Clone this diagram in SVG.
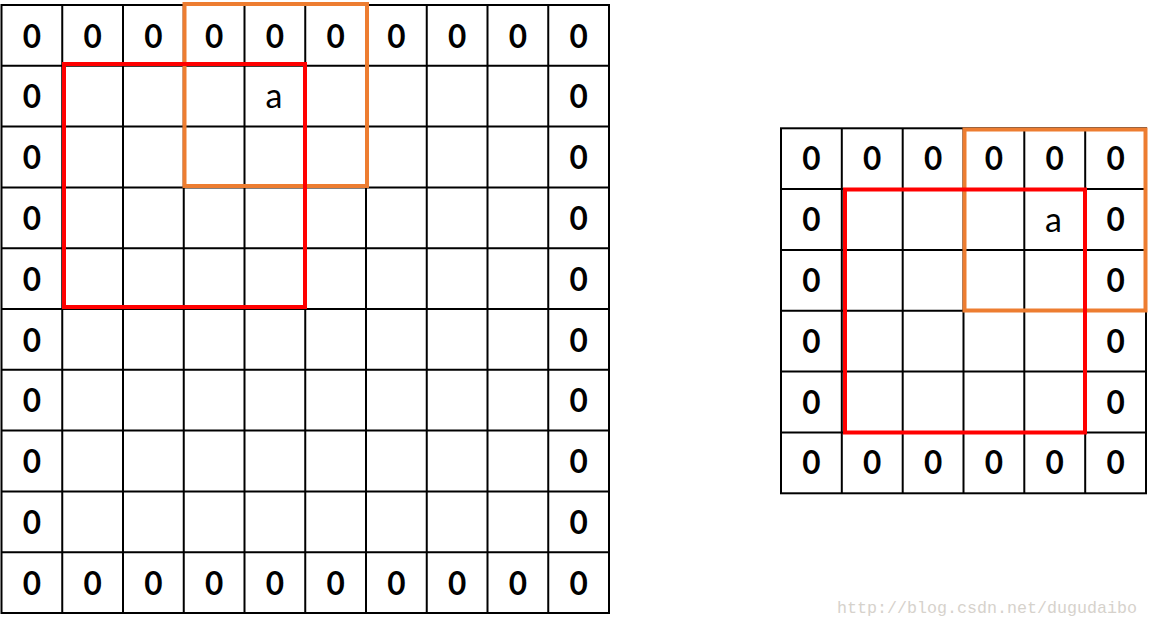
<svg xmlns="http://www.w3.org/2000/svg" width="1149" height="628" viewBox="0 0 1149 628">
<style>
.grid{fill:none;stroke:#000;stroke-width:2}
.z{font-family:Lato,"Open Sans","Liberation Sans",sans-serif;font-weight:700;font-size:31.5px;fill:#000;text-anchor:middle}
.a{font-family:Lato,"Open Sans","Liberation Sans",sans-serif;font-weight:400;font-size:34px;fill:#000;text-anchor:middle}
.red{fill:none;stroke:#FF0000;stroke-width:4}
.org{fill:none;stroke:#ED7D31;stroke-width:4}
.wm{font-family:"Liberation Mono",monospace;font-size:17px;fill:#d6d2cc}
</style>
<rect width="1149" height="628" fill="#fff"/>
<g id="left-grid">
<rect class="grid" x="1.5" y="5" width="607.5" height="608"/>
<path class="grid" d="M62.25 5V613M123 5V613M183.75 5V613M244.5 5V613M305.25 5V613M366 5V613M426.75 5V613M487.5 5V613M548.25 5V613M1.5 65.8H609M1.5 126.6H609M1.5 187.4H609M1.5 248.2H609M1.5 309H609M1.5 369.8H609M1.5 430.6H609M1.5 491.4H609M1.5 552.2H609"/>
<g class="z">
<text x="31.9" y="47.5">0</text><text x="92.6" y="47.5">0</text><text x="153.4" y="47.5">0</text><text x="214.1" y="47.5">0</text><text x="274.9" y="47.5">0</text><text x="335.6" y="47.5">0</text><text x="396.4" y="47.5">0</text><text x="457.1" y="47.5">0</text><text x="517.9" y="47.5">0</text><text x="578.6" y="47.5">0</text>
<text x="31.9" y="108.3">0</text><text x="578.6" y="108.3">0</text>
<text x="31.9" y="169.1">0</text><text x="578.6" y="169.1">0</text>
<text x="31.9" y="229.9">0</text><text x="578.6" y="229.9">0</text>
<text x="31.9" y="290.7">0</text><text x="578.6" y="290.7">0</text>
<text x="31.9" y="351.5">0</text><text x="578.6" y="351.5">0</text>
<text x="31.9" y="412.3">0</text><text x="578.6" y="412.3">0</text>
<text x="31.9" y="473.1">0</text><text x="578.6" y="473.1">0</text>
<text x="31.9" y="533.9">0</text><text x="578.6" y="533.9">0</text>
<text x="31.9" y="594.7">0</text><text x="92.6" y="594.7">0</text><text x="153.4" y="594.7">0</text><text x="214.1" y="594.7">0</text><text x="274.9" y="594.7">0</text><text x="335.6" y="594.7">0</text><text x="396.4" y="594.7">0</text><text x="457.1" y="594.7">0</text><text x="517.9" y="594.7">0</text><text x="578.6" y="594.7">0</text>
</g>
<text class="a" x="274" y="108">a</text>
<rect class="org" x="184.5" y="4" width="182.5" height="182"/>
<rect class="red" x="64" y="64" width="241" height="243"/>
</g>
<g id="right-grid">
<rect class="grid" x="781" y="128.3" width="365" height="365"/>
<path class="grid" d="M841.8 128.3V493.3M902.7 128.3V493.3M963.5 128.3V493.3M1024.3 128.3V493.3M1085.2 128.3V493.3M781 189.1H1146M781 249.9H1146M781 310.8H1146M781 371.6H1146M781 432.4H1146"/>
<g class="z">
<text x="811.4" y="170.3">0</text><text x="872.2" y="170.3">0</text><text x="933.1" y="170.3">0</text><text x="993.9" y="170.3">0</text><text x="1054.7" y="170.3">0</text><text x="1115.6" y="170.3">0</text>
<text x="811.4" y="231.1">0</text><text x="1115.6" y="231.1">0</text>
<text x="811.4" y="291.9">0</text><text x="1115.6" y="291.9">0</text>
<text x="811.4" y="352.8">0</text><text x="1115.6" y="352.8">0</text>
<text x="811.4" y="413.6">0</text><text x="1115.6" y="413.6">0</text>
<text x="811.4" y="474.4">0</text><text x="872.2" y="474.4">0</text><text x="933.1" y="474.4">0</text><text x="993.9" y="474.4">0</text><text x="1054.7" y="474.4">0</text><text x="1115.6" y="474.4">0</text>
</g>
<text class="a" x="1053.5" y="231.5">a</text>
<rect class="org" x="964.5" y="129.5" width="181" height="181"/>
<rect class="red" x="845" y="189.5" width="240" height="243"/>
</g>
<text class="wm" x="837" y="613" textLength="300" lengthAdjust="spacingAndGlyphs">http://blog.csdn.net/dugudaibo</text>
</svg>
